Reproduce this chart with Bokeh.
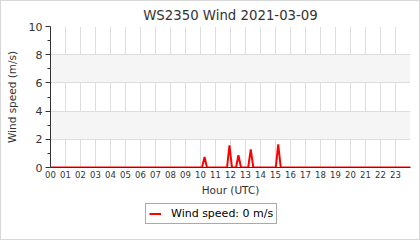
from bokeh.plotting import figure
from bokeh.layouts import column
from bokeh.models import FixedTicker, Legend, LegendItem, Range1d
from bokeh.embed import file_html
from bokeh.resources import INLINE

title = "WS2350 Wind 2021-03-09"
hours = [0, 10.1, 10.27, 10.43, 11.77, 11.93, 12.1, 12.37, 12.53, 12.7,
         13.18, 13.35, 13.52, 15.02, 15.18, 15.35, 24]
speed = [0, 0, 0.75, 0, 0, 1.57, 0, 0, 0.87, 0, 0, 1.29, 0, 0, 1.64, 0, 0]
hour_ticks = list(range(24))
hour_labels = ["%02d" % h for h in hour_ticks]
y_ticks = [0, 2, 4, 6, 8, 10]
legend_label = "Wind speed: 0 m/s"

FONT = "DejaVu Sans"
p = figure(width=418, height=197, output_backend="svg", toolbar_location=None,
           x_range=Range1d(0, 24), y_range=Range1d(0, 10),
           min_border_left=49, min_border_right=9, min_border_top=24,
           min_border_bottom=30)
p.outline_line_color = None
p.background_fill_color = "white"

p.title.text = title
p.title.align = "center"
p.title.text_font = FONT
p.title.text_font_size = "13.3px"
p.title.text_font_style = "normal"
p.title.text_color = "#333333"
p.title.standoff = 8

xa = p.xaxis[0]
xa.ticker = FixedTicker(ticks=hour_ticks)
xa.major_label_overrides = {h: l for h, l in zip(hour_ticks, hour_labels)}
xa.major_tick_out = 0
xa.major_tick_in = 0
xa.minor_tick_out = 0
xa.minor_tick_in = 0
xa.major_label_text_font = FONT
xa.major_label_text_font_size = "8.5px"
xa.major_label_text_color = "#333333"
xa.major_label_standoff = 3
xa.axis_label = "Hour (UTC)"
xa.axis_label_text_font = FONT
xa.axis_label_text_font_size = "10.5px"
xa.axis_label_text_font_style = "normal"
xa.axis_label_text_color = "#333333"
xa.axis_label_standoff = 3
xa.axis_line_color = "#333333"

ya = p.yaxis[0]
ya.ticker = FixedTicker(ticks=y_ticks, minor_ticks=[1, 3, 5, 7, 9])
ya.major_tick_out = 5
ya.major_tick_in = 0
ya.minor_tick_out = 3
ya.minor_tick_in = 0
ya.major_label_text_font = FONT
ya.major_label_text_font_size = "11px"
ya.major_label_text_color = "#333333"
ya.major_label_standoff = 3
ya.axis_label = "Wind speed (m/s)"
ya.axis_label_text_font = FONT
ya.axis_label_text_font_size = "10.5px"
ya.axis_label_text_font_style = "normal"
ya.axis_label_text_color = "#333333"
ya.axis_label_standoff = 8
ya.axis_line_color = "#333333"
ya.major_tick_line_color = "#333333"
ya.minor_tick_line_color = "#333333"

p.xgrid.ticker = FixedTicker(ticks=hour_ticks)
p.xgrid.grid_line_color = "#dddddd"
p.ygrid.ticker = FixedTicker(ticks=y_ticks)
p.ygrid.grid_line_color = "#dddddd"
p.ygrid.band_fill_color = "#f5f5f5"
p.ygrid.band_fill_alpha = 1.0

p.line(hours, speed, line_color="red", line_width=2)

# legend strip below the chart (series drawn out of view, only its legend shows)
q = figure(width=418, height=41, output_backend="svg", toolbar_location=None,
           x_range=Range1d(0, 24), y_range=Range1d(100, 101),
           x_axis_location=None, y_axis_location=None,
           min_border=0, min_border_left=0, min_border_right=0,
           min_border_top=0, min_border_bottom=0)
q.grid.visible = False
q.outline_line_color = None
rl = q.line(hours, speed, line_color="red", line_width=2)
legend = Legend(items=[LegendItem(label=legend_label, renderers=[rl])],
                location=(95, 15), orientation="horizontal")
legend.label_text_font = FONT
legend.label_text_font_size = "11px"
legend.label_text_color = "#000000"
legend.border_line_color = "#555555"
legend.border_line_width = 1
legend.padding = 3
legend.margin = 0
legend.glyph_width = 12
legend.glyph_height = 13
legend.label_standoff = 10
legend.label_height = 13
legend.spacing = 0
legend.background_fill_alpha = 1
q.add_layout(legend)

layout = column(p, q, spacing=0, styles={"border": "1px solid #d8d8d8"})
open("out.html", "w").write(file_html(layout, INLINE))
